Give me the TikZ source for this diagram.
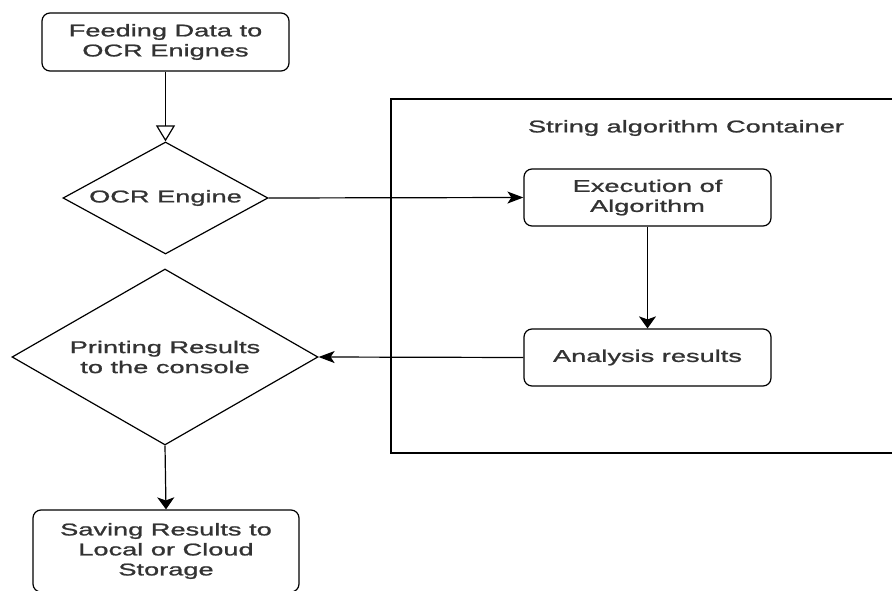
\documentclass[tikz,border=0pt]{standalone}
\usepackage{fontspec}
\setmainfont{Liberation Sans}[FakeStretch=1.6,FakeBold=1.2]
\usetikzlibrary{shapes.geometric,arrows.meta}
\begin{document}
\begin{tikzpicture}[x=1pt,y=-1pt,
  line width=1.2pt,
  every node/.style={font=\fontsize{17}{20}\selectfont, text=black!80, align=center},
  procbox/.style={draw, rounded corners=8pt, minimum width=#1, inner sep=0pt},
  decision/.style={draw, diamond, aspect=1.83, inner sep=0pt},
  hhead/.style={-{Stealth[length=16pt,width=12pt,inset=4pt]}},
  vhead/.style={-{Stealth[length=12pt,width=17pt,inset=3pt]}},
  openhead/.style={-{Triangle[open,length=16pt,width=19pt,line width=1.2pt]}}]
  \useasboundingbox (0,0) rectangle (892,591);
  \begin{scope}
    \clip (0,0) rectangle (892,591);
    % container of the string algorithm
    \draw (391,99) rectangle (900,453);
    \node (title) at (686,128) {String algorithm Container};

    % left column
    \node[procbox=247pt, minimum height=58pt] (feed) at (165.5,42) {Feeding Data to\\OCR Enignes};
    \node[decision, minimum width=205pt, minimum height=112pt] (ocr) at (165.5,198) {OCR Engine};
    \node[decision, minimum width=306pt, minimum height=176pt] (print) at (165,357) {Printing Results\\to the console};
    \node[procbox=266pt, minimum height=82pt] (save) at (166,551) {Saving Results to\\Local or Cloud\\Storage};

    % inner boxes
    \node[procbox=247pt, minimum height=57pt] (exec) at (647.5,197.5) {Execution of\\Algorithm};
    \node[procbox=247pt, minimum height=57pt] (anal) at (647.5,357.5) {Analysis results};

    % connectors
    \draw[openhead] (feed.south) -- (ocr.north);
    \draw[hhead] (ocr.east) -- (exec.west);
    \draw[vhead] (exec.south) -- (anal.north);
    \draw[hhead] (anal.west) -- (print.east);
    \draw[vhead] (print.south) -- (save.north);
  \end{scope}
\end{tikzpicture}
\end{document}
